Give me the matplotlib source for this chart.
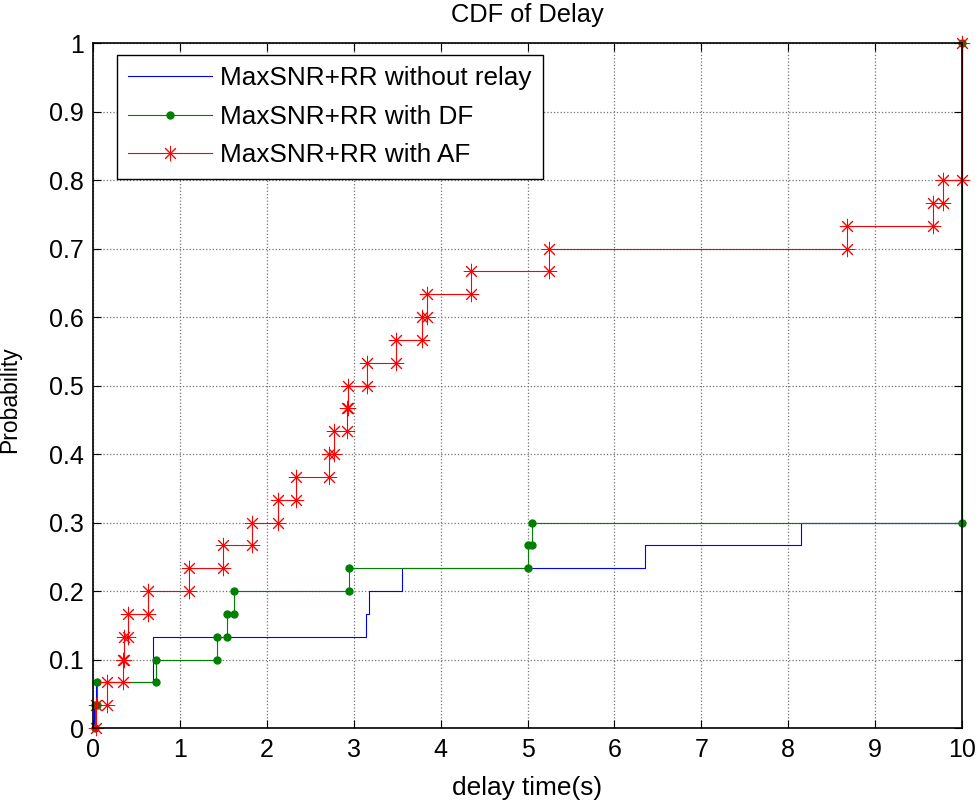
import numpy as np
import matplotlib.pyplot as plt

plt.rcParams['font.family'] = ['Liberation Sans', 'DejaVu Sans']

# empirical CDF of 30 delay samples (unique delays and cumulative counts)
n_samples = 30
delay_norelay = [0.01, 0.03, 0.69, 3.137, 3.18, 3.55, 6.357, 8.153, 10.0]
count_norelay = [1, 2, 4, 5, 6, 7, 8, 9, 30]

delay_df = [0.02, 0.045, 0.718, 1.428, 1.54, 1.617, 2.948, 5.0, 5.05, 10.0]
count_df = [1, 2, 3, 4, 5, 6, 7, 8, 9, 30]

delay_af = [0.035, 0.16, 0.342, 0.35, 0.396, 0.626, 1.105, 1.497, 1.83, 2.123,
            2.331, 2.714, 2.768, 2.925, 2.93, 3.15, 3.482, 3.78, 3.846, 4.349,
            5.244, 8.683, 9.673, 9.788, 10.0]
count_af = list(range(1, 25)) + [30]

labels = ['MaxSNR+RR without relay', 'MaxSNR+RR with DF', 'MaxSNR+RR with AF']


def stairs_xy(x, counts):
    # vertices of a stairs plot starting from F = 0
    F = np.array(counts) / n_samples
    x = np.array(x)
    xx = np.repeat(x, 2)
    yy = np.empty_like(xx)
    yy[0::2] = np.concatenate([[0], F[:-1]])
    yy[1::2] = F
    return xx, yy


fig = plt.figure(figsize=(9.78, 8.01), dpi=100)
ax = fig.add_axes([0.0954, 0.0911, 0.888, 0.8552])

xb, yb = stairs_xy(delay_norelay, count_norelay)
xg, yg = stairs_xy(delay_df, count_df)
xr, yr = stairs_xy(delay_af, count_af)

ax.plot(xb, yb, color='blue', lw=0.8, label=labels[0], clip_on=False)
ax.plot(xg, yg, color='#008000', lw=0.8, marker='o', ms=5,
        label=labels[1], clip_on=False)
ax.plot(xr, yr, color='red', lw=0.8, marker=(8, 2, 0), ms=11, mew=0.7,
        label=labels[2], clip_on=False)

ax.set_xlim(0, 10)
ax.set_ylim(0, 1)
ax.set_xticks(np.arange(0, 11, 1))
ax.set_yticks(np.arange(0, 1.01, 0.1))
ax.set_yticklabels(['0', '0.1', '0.2', '0.3', '0.4', '0.5', '0.6', '0.7',
                    '0.8', '0.9', '1'])
ax.tick_params(direction='in', top=True, right=True, labelsize=18,
               length=6, width=0.8, pad=7)
ax.grid(True, ls=':', color='0.45', lw=0.9)
for s in ax.spines.values():
    s.set_linewidth(1.2)

ax.set_title('CDF of Delay', fontsize=18.3, pad=15)
ax.set_xlabel('delay time(s)', fontsize=18.9, labelpad=10)
ax.set_ylabel('Probability', fontsize=16.5)
ax.yaxis.set_label_coords(-0.083, 0.48)

leg = ax.legend(loc='upper left', bbox_to_anchor=(0.027, 0.983),
                fontsize=18.8, handlelength=3.2, handletextpad=0.3,
                fancybox=False, edgecolor='black', framealpha=1,
                borderaxespad=0, labelspacing=0.55, borderpad=0.45)
leg.get_frame().set_linewidth(1.0)

fig.savefig('out.png', dpi=100)
